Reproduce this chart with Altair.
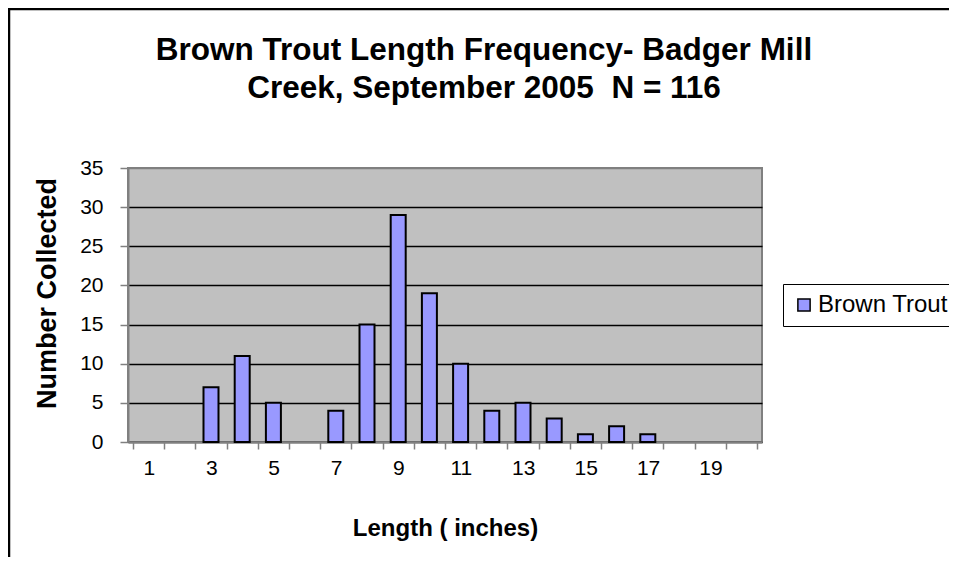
import json
import altair as alt
import pandas as pd

# ---- data ----
lengths = list(range(1, 21))
counts = [0, 0, 7, 11, 5, 0, 4, 15, 29, 19, 10, 4, 5, 3, 1, 2, 1, 0, 0, 0]
series_name = "Brown Trout"
x_tick_labels = ["1", "3", "5", "7", "9", "11", "13", "15", "17", "19"]
y_tick_values = [0, 5, 10, 15, 20, 25, 30, 35]
title_lines = ["Brown Trout Length Frequency- Badger Mill",
               "Creek, September 2005 \u00a0N = 116"]
x_title = "Length ( inches)"
y_title = "Number Collected"

df = pd.DataFrame({"length": lengths, "count": counts, "series": series_name})

W, H = 634, 274
FONT = "Arial"
GRAY = "#808080"
BAR = "#9999FF"

bounds = [i + 0.5 for i in range(0, 21)]
label_expr = (
    "indexof(" + json.dumps(x_tick_labels) + ", format(datum.value + 0.5, 'd')) >= 0"
    " && datum.value < 20 ? format(datum.value + 0.5, 'd') : ''"
)

x_enc = alt.X(
    "length:Q",
    scale=alt.Scale(domain=[0.5, 20.5], nice=False, zero=False),
    axis=alt.Axis(
        values=bounds,
        labelExpr=label_expr,
        labelOffset=W / 20 / 2,
        labelFont=FONT,
        labelFontSize=21,
        labelColor="black",
        labelPadding=8,
        labelFlush=False,
        labelOverlap=False,
        tickColor=GRAY,
        tickSize=7,
        tickWidth=1.5,
        domainColor=GRAY,
        domainWidth=2,
        grid=False,
        title=x_title,
        titleFont=FONT,
        titleFontSize=24,
        titleFontWeight="bold",
        titleColor="black",
        titleBaseline="alphabetic",
        titleY=93,
    ),
)

y_enc = alt.Y(
    "count:Q",
    scale=alt.Scale(domain=[0, 35], nice=False),
    axis=alt.Axis(
        values=y_tick_values,
        labelFont=FONT,
        labelFontSize=21,
        labelColor="black",
        labelPadding=17,
        tickColor=GRAY,
        tickSize=8,
        tickWidth=1.5,
        domainColor=GRAY,
        domainWidth=2,
        grid=True,
        gridColor=alt.condition("datum.value == 35", alt.value(GRAY), alt.value("black")),
        gridWidth=1.5,
        title=y_title,
        titleFont=FONT,
        titleFontSize=27,
        titleFontWeight="bold",
        titleColor="black",
        titleAngle=270,
        titleAlign="center",
        titleBaseline="middle",
        titleX=-81,
        titleY=125,
    ),
)

bars = (
    alt.Chart(df)
    .transform_filter("datum.count > 0")
    .mark_bar(size=15, stroke="black", strokeWidth=2)
    .encode(
        x=x_enc,
        y=y_enc,
        color=alt.Color(
            "series:N",
            scale=alt.Scale(range=[BAR]),
            legend=alt.Legend(
                title=None,
                orient="none",
                legendX=655,
                legendY=116,
                strokeColor="black",
                fillColor="white",
                padding=9,
                symbolType="square",
                symbolSize=150,
                symbolStrokeColor="black",
                symbolStrokeWidth=1.5,
                labelFont=FONT,
                labelFontSize=24,
                labelColor="black",
                labelOffset=2,
                cornerRadius=0,
            ),
        ),
    )
)

frame = pd.DataFrame({"k": [0]})
top_line = alt.Chart(frame).mark_rule(color="black", strokeWidth=2.5).encode(
    x=alt.value(-120), x2=alt.value(W + 200), y=alt.value(-159)
)
left_line = alt.Chart(frame).mark_rule(color="black", strokeWidth=2.5).encode(
    x=alt.value(-119), y=alt.value(-160), y2=alt.value(H + 200)
)
title = alt.Chart(frame).mark_text(
    text=title_lines,
    font=FONT,
    fontSize=31.5,
    fontWeight="bold",
    color="black",
    align="center",
    baseline="alphabetic",
    lineHeight=38,
).encode(x=alt.value(356), y=alt.value(-108))

chart = (
    alt.layer(bars, top_line, left_line, title)
    .properties(
        width=W,
        height=H,
        autosize=alt.AutoSizeParams(type="none"),
        padding={"left": 120, "top": 160, "right": 187, "bottom": 115},
        background="white",
    )
    .configure_view(fill="#C0C0C0", stroke=GRAY, strokeWidth=2)
)

chart.save("out.html", embed_options={"renderer": "svg", "actions": False})
